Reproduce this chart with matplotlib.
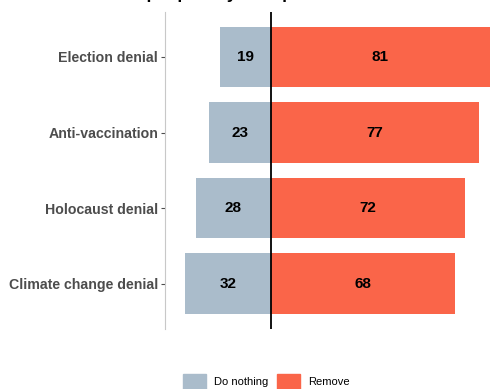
import numpy as np
import matplotlib.pyplot as plt
from matplotlib.patches import Patch

# survey shares (percent) per claim type
claims = ["Election denial", "Anti-vaccination", "Holocaust denial", "Climate change denial"]
do_nothing = [19, 23, 28, 32]
remove = [81, 77, 72, 68]

col_nothing = "#AABCCB"
col_remove = "#FA6549"

plt.rcParams['font.family'] = ['Liberation Sans', 'DejaVu Sans']

fig = plt.figure(figsize=(4.9, 3.89), dpi=100)
ax = fig.add_axes([165/490, 1 - 329/389, 325/490, (329 - 11.6)/389])

y = np.arange(len(claims))
ax.barh(y, [-v for v in do_nothing], height=0.8, color=col_nothing)
ax.barh(y, remove, height=0.8, color=col_remove)

for i in range(len(claims)):
    ax.text(-do_nothing[i] / 2, y[i], str(do_nothing[i]), ha='center', va='center',
            fontsize=11, fontweight='bold', color='black')
    ax.text(remove[i] / 2, y[i], str(remove[i]), ha='center', va='center',
            fontsize=11, fontweight='bold', color='black')

ax.axvline(0, color='black', lw=1.3)

ax.set_xlim(-39.3, 81.1)
ax.set_ylim(len(claims) - 0.4, -0.6)
ax.set_yticks(y)
ax.set_yticklabels(claims, fontsize=10.2, fontweight='bold', color='#4D4D4D')
ax.set_xticks([])
ax.tick_params(axis='y', length=3, width=0.8, color='#4D4D4D', pad=2)
for s in ['top', 'right', 'bottom']:
    ax.spines[s].set_visible(False)
ax.spines['left'].set_color('#C8C8C8')
ax.spines['left'].set_linewidth(0.8)

# title sits mostly above the canvas
fig.text(0.56, 1.003, "What people say tech platforms should do", ha='center', va='baseline',
         fontsize=12.5, fontweight='bold', color='black')

handles = [Patch(color=col_nothing, label='Do nothing'), Patch(color=col_remove, label='Remove')]
fig.legend(handles=handles, loc='lower center', bbox_to_anchor=(0.543, 0.0), ncol=2,
           frameon=False, fontsize=8, handlelength=2.07, handleheight=1.7,
           columnspacing=0.75, handletextpad=0.75, borderpad=0, borderaxespad=0)

fig.savefig("out.png", dpi=100)
